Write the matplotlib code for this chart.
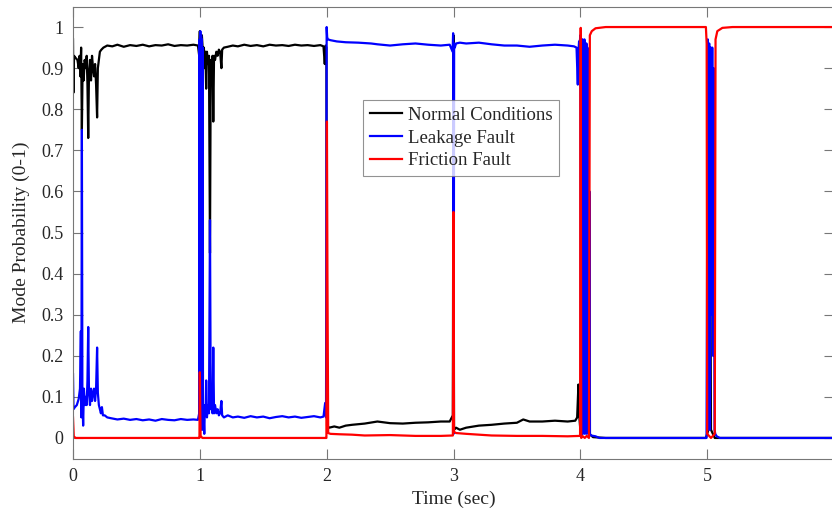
import matplotlib
matplotlib.use("Agg")
import matplotlib.pyplot as plt

# Mode probabilities (time in sec, probability 0-1)
normal_t = [
    0.000, 0.003, 0.008, 0.020, 0.035, 0.045, 0.052, 0.058, 0.064, 0.070,
    0.076, 0.084, 0.092, 0.100, 0.108, 0.114, 0.120, 0.126, 0.134, 0.142,
    0.150, 0.158, 0.166, 0.174, 0.182, 0.190, 0.196, 0.204, 0.212, 0.224,
    0.240, 0.270, 0.310, 0.350, 0.400, 0.450, 0.500, 0.550, 0.600, 0.650,
    0.700, 0.750, 0.800, 0.850, 0.900, 0.950, 0.985,
    0.995, 1.000, 1.004, 1.008, 1.012, 1.016, 1.020, 1.026, 1.032, 1.038,
    1.044, 1.050, 1.056, 1.064, 1.072, 1.080, 1.086, 1.094, 1.100, 1.106,
    1.112, 1.120, 1.130, 1.140, 1.150, 1.160, 1.170, 1.176, 1.190, 1.220,
    1.260, 1.300, 1.350, 1.400, 1.450, 1.500, 1.550, 1.600, 1.650, 1.700,
    1.750, 1.800, 1.850, 1.900, 1.950, 1.975, 1.985, 1.992, 1.998,
    2.003, 2.020, 2.060, 2.100, 2.150, 2.200, 2.300, 2.400, 2.450, 2.500,
    2.600, 2.700, 2.800, 2.900, 2.970, 2.995,
    3.000, 3.004, 3.020, 3.050, 3.100, 3.200, 3.300, 3.400, 3.500, 3.550,
    3.600, 3.700, 3.800, 3.900, 3.960, 3.975, 3.985, 3.990,
    4.000, 4.020, 4.040, 4.060, 4.070, 4.100, 4.200, 4.990, 5.010, 5.020,
    5.030, 5.060, 6.000,
]
normal_p = [
    0.970, 0.840, 0.930, 0.925, 0.920, 0.900, 0.930, 0.880, 0.950, 0.750,
    0.910, 0.870, 0.920, 0.900, 0.930, 0.860, 0.730, 0.890, 0.920, 0.870,
    0.930, 0.900, 0.880, 0.910, 0.860, 0.780, 0.900, 0.920, 0.940, 0.945,
    0.950, 0.955, 0.953, 0.957, 0.952, 0.956, 0.954, 0.957, 0.953, 0.956,
    0.955, 0.958, 0.954, 0.956, 0.955, 0.957, 0.955,
    0.930, 0.990, 0.020, 0.970, 0.030, 0.980, 0.960, 0.930, 0.950, 0.900,
    0.940, 0.850, 0.940, 0.910, 0.930, 0.450, 0.920, 0.900, 0.930, 0.770,
    0.930, 0.920, 0.940, 0.930, 0.945, 0.940, 0.900, 0.945, 0.950, 0.952,
    0.955, 0.953, 0.957, 0.954, 0.956, 0.953, 0.957, 0.955, 0.956, 0.954,
    0.957, 0.955, 0.956, 0.954, 0.956, 0.953, 0.910, 0.955, 0.950,
    0.030, 0.025, 0.028, 0.025, 0.030, 0.032, 0.035, 0.040, 0.038, 0.036,
    0.035, 0.037, 0.038, 0.040, 0.040, 0.055,
    0.980, 0.020, 0.025, 0.020, 0.025, 0.030, 0.032, 0.035, 0.037, 0.045,
    0.040, 0.040, 0.042, 0.040, 0.042, 0.050, 0.130, 0.060,
    0.020, 0.040, 0.020, 0.090, 0.010, 0.002, 0.000, 0.000, 0.020, 0.900,
    0.020, 0.000, 0.000,
]

leak_t = [
    0.000, 0.004, 0.015, 0.030, 0.045, 0.055, 0.062, 0.066, 0.070, 0.074,
    0.080, 0.086, 0.094, 0.100, 0.108, 0.114, 0.120, 0.126, 0.134, 0.142,
    0.150, 0.158, 0.166, 0.174, 0.182, 0.190, 0.196, 0.204, 0.212, 0.220,
    0.228, 0.236, 0.250, 0.270, 0.300, 0.350, 0.400, 0.450, 0.500, 0.550,
    0.600, 0.650, 0.700, 0.750, 0.800, 0.850, 0.900, 0.950, 0.985,
    0.995, 0.998, 1.001, 1.004, 1.007, 1.010, 1.013, 1.016, 1.019, 1.022,
    1.025, 1.030, 1.035, 1.040, 1.046, 1.050, 1.056, 1.064, 1.072, 1.080,
    1.086, 1.094, 1.100, 1.106, 1.112, 1.120, 1.130, 1.140, 1.150, 1.160,
    1.170, 1.176, 1.190, 1.220, 1.260, 1.300, 1.350, 1.400, 1.450, 1.500,
    1.550, 1.600, 1.650, 1.700, 1.750, 1.800, 1.850, 1.900, 1.950, 1.975,
    1.988, 1.995,
    2.000, 2.004, 2.010, 2.030, 2.080, 2.150, 2.250, 2.350, 2.400, 2.500,
    2.600, 2.700, 2.800, 2.900, 2.970, 2.993, 2.997,
    3.001, 3.005, 3.010, 3.020, 3.050, 3.100, 3.200, 3.300, 3.400, 3.500,
    3.600, 3.700, 3.800, 3.900, 3.950, 3.970, 3.980, 3.985, 3.990, 3.995,
    4.000, 4.004, 4.008, 4.012, 4.016, 4.020, 4.024, 4.028, 4.032, 4.036,
    4.040, 4.044, 4.048, 4.052, 4.056, 4.060, 4.064, 4.068, 4.072, 4.076,
    4.085, 4.120, 4.150, 4.995,
    5.005, 5.010, 5.016, 5.022, 5.028, 5.034, 5.040, 5.046, 5.052, 5.058,
    5.064, 5.075, 5.100, 6.000,
]
leak_p = [
    0.155, 0.070, 0.075, 0.080, 0.095, 0.120, 0.260, 0.050, 0.750, 0.100,
    0.030, 0.120, 0.080, 0.100, 0.080, 0.140, 0.270, 0.110, 0.080, 0.120,
    0.090, 0.110, 0.120, 0.090, 0.120, 0.220, 0.110, 0.080, 0.070, 0.060,
    0.075, 0.055, 0.055, 0.050, 0.048, 0.045, 0.047, 0.044, 0.046, 0.043,
    0.045, 0.042, 0.046, 0.044, 0.043, 0.046, 0.044, 0.045, 0.044,
    0.060, 0.970, 0.050, 0.990, 0.030, 0.980, 0.020, 0.970, 0.040, 0.950,
    0.020, 0.050, 0.010, 0.080, 0.060, 0.140, 0.050, 0.080, 0.060, 0.530,
    0.070, 0.100, 0.060, 0.220, 0.060, 0.080, 0.060, 0.070, 0.055, 0.060,
    0.090, 0.055, 0.050, 0.055, 0.050, 0.052, 0.049, 0.053, 0.050, 0.052,
    0.048, 0.051, 0.053, 0.050, 0.052, 0.049, 0.051, 0.053, 0.050, 0.052,
    0.085, 0.050,
    1.000, 0.975, 0.970, 0.968, 0.965, 0.963, 0.962, 0.960, 0.958, 0.955,
    0.958, 0.960, 0.957, 0.955, 0.957, 0.940, 0.985,
    0.010, 0.960, 0.950, 0.960, 0.962, 0.960, 0.962, 0.958, 0.955, 0.955,
    0.952, 0.955, 0.957, 0.955, 0.953, 0.950, 0.860, 0.940, 0.965, 0.960,
    0.980, 0.020, 0.970, 0.010, 0.970, 0.010, 0.960, 0.020, 0.970, 0.010,
    0.960, 0.020, 0.960, 0.010, 0.950, 0.020, 0.940, 0.010, 0.600, 0.010,
    0.006, 0.004, 0.000, 0.000,
    0.970, 0.020, 0.960, 0.020, 0.950, 0.300, 0.950, 0.200, 0.900, 0.020,
    0.010, 0.004, 0.000, 0.000,
]

friction_t = [
    0.000, 0.006, 0.020, 0.990, 0.997, 1.000, 1.003, 1.006, 1.020, 1.990,
    1.998, 2.002, 2.006, 2.012, 2.030, 2.100, 2.200, 2.300, 2.500, 2.700,
    2.900, 2.995, 3.000, 3.004, 3.020, 3.100, 3.200, 3.300, 3.500, 3.700,
    3.900, 3.998, 4.003, 4.007, 4.020, 4.035, 4.050, 4.068, 4.075, 4.090,
    4.120, 4.200, 4.990, 4.996, 5.000, 5.030, 5.060, 5.066, 5.080, 5.120,
    5.200, 6.000,
]
friction_p = [
    0.050, 0.004, 0.000, 0.000, 0.000, 0.160, 0.070, 0.005, 0.000, 0.000,
    0.000, 0.770, 0.400, 0.012, 0.010, 0.009, 0.008, 0.006, 0.007, 0.005,
    0.005, 0.006, 0.550, 0.015, 0.012, 0.010, 0.008, 0.006, 0.005, 0.005,
    0.004, 0.005, 0.998, 0.000, 0.004, 0.000, 0.005, 0.000, 0.980, 0.990,
    0.997, 1.000, 1.000, 0.960, 0.010, 0.000, 0.010, 0.970, 0.990, 0.998,
    1.000, 1.000,
]

series = [
    ("Normal Conditions", normal_t, normal_p, "black"),
    ("Leakage Fault", leak_t, leak_p, "#0000ff"),
    ("Friction Fault", friction_t, friction_p, "#ff0000"),
]

plt.rcParams["font.family"] = ["Liberation Serif", "DejaVu Serif"]
# keep every switching spike; simplification merges the dense bands
plt.rcParams["path.simplify"] = False

fig = plt.figure(figsize=(8.32, 5.12), dpi=100)
# right edge of the axes sits just past the picture, as in the reference
ax = fig.add_axes([73 / 832, 53.5 / 512, 761 / 832, 452 / 512])

for name, t, p, color in series:
    ax.plot(t, p, color=color, linewidth=1.6, label=name)

ax.set_xlim(0, 6)
ax.set_ylim(-0.05, 1.05)
ax.set_xticks(range(0, 7))
ax.set_xticklabels(["0", "1", "2", "3", "4", "5", ""])
yticks = [i / 10 for i in range(11)]
ax.set_yticks(yticks)
ax.set_yticklabels(["0"] + [f"{v:.1f}" for v in yticks[1:-1]] + ["1"])

ax.tick_params(direction="in", length=7, width=0.8, color="#777777",
               labelcolor="#262626", labelsize=13, top=True, right=True)
ax.tick_params(axis="x", pad=7)
ax.tick_params(axis="y", pad=7)
for sp in ax.spines.values():
    sp.set_color("#777777")
    sp.set_linewidth(0.8)

ax.set_xlabel("Time (sec)", fontsize=14, color="#262626", labelpad=4)
ax.set_ylabel("Mode Probability (0-1)", fontsize=14, color="#262626",
              labelpad=8)

leg = ax.legend(loc="upper left", bbox_to_anchor=(0.381, 0.793),
                borderaxespad=0, fontsize=13.5, frameon=True, fancybox=False,
                handlelength=1.75, handletextpad=0.3, labelspacing=0.3,
                borderpad=0.35)
leg.get_frame().set_edgecolor("#777777")
leg.get_frame().set_linewidth(0.8)
for txt in leg.get_texts():
    txt.set_color("#262626")

fig.savefig("out.png", dpi=100)
